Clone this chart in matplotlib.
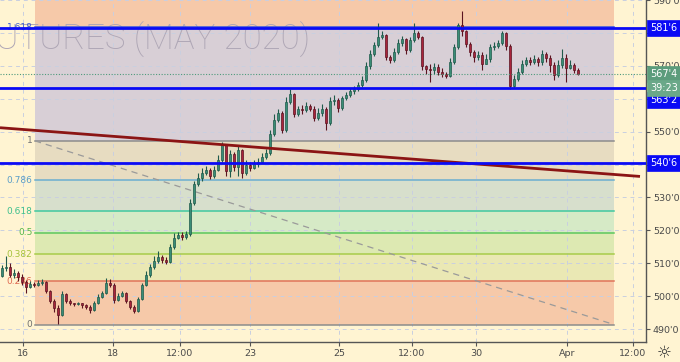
import numpy as np
import matplotlib
matplotlib.use('Agg')
import matplotlib.pyplot as plt
from matplotlib.transforms import blended_transform_factory

# свечи (цены в центах, open = предыдущий close)
first_open = 506.2
closes = [
    508.7, 509.0, 506.5, 507.1, 505.9, 504.4, 502.9, 503.8, 503.5, 504.1,
    504.4, 501.7, 498.7, 496.3, 494.2, 500.8, 498.7, 497.8, 497.5, 497.8,
    497.2, 496.6, 495.7, 497.8, 499.9, 501.1, 504.1, 503.5, 499.0, 500.2,
    501.1, 498.7, 496.6, 495.4, 499.3, 503.5, 506.5, 509.0, 510.8, 512.0,
    511.1, 510.5, 515.0, 517.7, 518.6, 518.0, 518.9, 528.2, 534.0, 535.8,
    537.3, 538.5, 536.4, 538.5, 541.5, 546.0, 537.9, 543.3, 539.4, 544.5,
    537.3, 540.0, 539.1, 540.3, 540.9, 542.4, 543.6, 549.3, 553.5, 555.7,
    550.5, 559.0, 561.4, 555.4, 556.9, 556.6, 557.8, 556.9, 554.1, 555.7,
    556.9, 552.6, 559.3, 559.6, 557.2, 560.2, 561.1, 562.3, 562.9, 564.1,
    565.6, 569.9, 573.5, 576.2, 578.9, 579.5, 572.6, 571.7, 574.1, 576.8,
    578.3, 574.7, 577.7, 580.1, 578.9, 569.9, 568.9, 568.6, 569.6, 568.0,
    567.4, 566.8, 571.1, 575.6, 582.5, 580.7, 576.5, 574.1, 572.6, 573.2,
    570.5, 572.0, 575.6, 575.9, 576.8, 580.1, 575.9, 563.8, 565.9, 568.0,
    570.5, 571.7, 571.3, 572.0, 571.1, 573.5, 572.3, 570.2, 567.1, 570.2,
    572.3, 569.2, 570.2, 568.6, 567.4]
highs = [
    509.6, 512.3, 510.2, 508.4, 507.7, 506.8, 505.0, 504.7, 504.4, 505.0,
    505.3, 504.7, 502.0, 499.3, 497.2, 501.7, 501.1, 499.3, 498.1, 498.4,
    498.1, 497.5, 497.2, 498.7, 500.8, 501.7, 505.6, 505.3, 504.1, 501.1,
    501.7, 501.4, 499.0, 497.2, 499.9, 504.1, 507.7, 509.9, 512.3, 513.8,
    512.6, 512.0, 515.9, 519.2, 519.5, 519.5, 519.8, 529.4, 534.9, 537.3,
    539.1, 539.7, 539.1, 539.7, 543.0, 546.9, 546.3, 544.5, 543.9, 545.7,
    544.8, 541.5, 540.9, 541.5, 542.1, 543.6, 544.8, 550.5, 555.4, 556.9,
    556.3, 560.5, 562.9, 561.7, 557.8, 558.1, 559.0, 558.4, 557.8, 557.2,
    558.4, 557.5, 560.5, 561.1, 560.2, 560.8, 562.0, 563.2, 563.8, 565.0,
    566.8, 571.1, 574.7, 577.1, 583.1, 580.7, 579.8, 573.2, 575.3, 578.0,
    579.2, 578.6, 578.9, 583.1, 580.7, 579.2, 570.2, 570.5, 570.8, 570.5,
    569.2, 568.0, 572.3, 576.5, 583.1, 586.7, 581.0, 577.1, 574.7, 574.4,
    574.1, 573.5, 576.5, 577.1, 577.7, 580.7, 580.4, 576.5, 567.1, 569.2,
    571.7, 572.6, 572.6, 573.2, 572.6, 574.7, 574.1, 573.2, 571.1, 571.7,
    575.0, 573.5, 571.7, 570.8, 569.2]
lows = [
    505.9, 507.7, 505.9, 505.6, 504.7, 503.5, 501.1, 502.6, 502.9, 503.2,
    503.5, 501.1, 498.1, 495.1, 491.5, 493.9, 497.8, 497.2, 496.9, 497.2,
    496.3, 496.0, 494.8, 495.4, 497.5, 499.6, 500.8, 502.9, 498.1, 498.7,
    499.9, 497.8, 496.0, 494.8, 495.1, 499.0, 503.2, 505.9, 508.4, 510.2,
    510.2, 509.9, 510.2, 514.4, 517.4, 517.1, 517.4, 518.3, 527.6, 533.4,
    534.9, 536.7, 535.5, 535.8, 537.9, 540.9, 536.4, 536.1, 537.9, 536.4,
    535.8, 536.7, 537.9, 538.8, 539.4, 540.6, 541.8, 543.0, 548.7, 552.9,
    549.6, 549.9, 558.4, 554.5, 554.8, 555.4, 556.0, 556.3, 553.2, 553.5,
    554.8, 550.5, 552.0, 558.1, 556.0, 556.6, 559.6, 560.5, 561.4, 562.3,
    563.5, 565.0, 568.9, 572.9, 575.6, 578.0, 571.7, 570.8, 571.1, 573.5,
    575.9, 573.5, 574.1, 577.1, 578.0, 568.6, 567.4, 565.0, 567.4, 567.1,
    566.5, 566.2, 566.5, 570.5, 575.0, 579.2, 575.6, 572.9, 571.1, 571.7,
    568.6, 570.5, 571.1, 574.7, 575.3, 576.2, 574.7, 562.9, 563.2, 565.3,
    567.4, 569.9, 570.2, 570.5, 569.9, 570.2, 571.1, 568.0, 565.6, 566.5,
    569.2, 565.0, 568.9, 567.7, 567.1]

# фибо
fib_low, fib_high = 491.4, 547.2
fib_start, fib_end = 8.25, 153.0
fib_ratios = [0, 0.236, 0.382, 0.5, 0.618, 0.786, 1, 1.618, 2.618]
fib_text = ['0', '0.236', '0.382', '0.5', '0.618', '0.786', '1', '1.618']
fib_line_colors = ['#8c8c8c', '#e0735a', '#a8cc4a', '#5cc85c', '#40c8a0',
                   '#6aaed0', '#8c8c8c', '#3050e0']
fib_label_colors = ['#707070', '#e06a50', '#a6c23a', '#55b84a', '#3cbf8e',
                    '#5a9ec8', '#707070', '#4060d0']
fib_fill_colors = ['#f6c9a9', '#eae8b4', '#dde9b2', '#d6eac6', '#d7dfcc',
                   '#e7dcc1', '#d8cfd6', '#f6c9a9']

# горизонтальные уровни
levels = [581.6, 563.2, 540.6]
level_text = ["581'6", "563'2", "540'6"]
last_price = 567.4
last_text = "567'4"
countdown = '39:23'

# наклонная линия
trend_x = [-0.5, 159.5]
trend_y = [551.2, 536.4]

xtick_pos = [5.25, 27.75, 44.5, 62, 84.25, 102.5, 118.5, 141.25, 157.75]
xtick_labels = ['16', '18', '12:00', '23', '25', '12:00', '30', 'Apr', '12:00']
ytick_vals = [490, 500, 510, 520, 530, 540, 550, 560, 570, 580, 590]
ytick_labels = ["490'0", "500'0", "510'0", "520'0", "530'0", '', "550'0", '',
                "570'0", "580'0", "590'0"]

bg = '#fff4d2'
fig = plt.figure(figsize=(6.8, 3.62), dpi=100, facecolor=bg)
ax = fig.add_axes([0, 20 / 362, 646 / 680, 342 / 362], facecolor=bg)
ax.set_xlim(-0.5, 161)
ax.set_ylim(486.1, 589.1)

# заливки фибо
prices = [fib_low + r * (fib_high - fib_low) for r in fib_ratios]
for k in range(len(prices) - 1):
    ax.fill_between([fib_start, fib_end], prices[k], prices[k + 1],
                    color=fib_fill_colors[k], lw=0, zorder=0.5)
for k, t in enumerate(fib_text):
    ax.plot([fib_start, fib_end], [prices[k], prices[k]],
            color=fib_line_colors[k], lw=1.1, zorder=1.2)
    ax.text(fib_start - 0.6, prices[k], t, ha='right', va='center',
            fontsize=6.5, color=fib_label_colors[k], zorder=1.3)

# сетка
for xp in xtick_pos:
    ax.axvline(xp, color='#c9cfe0', lw=0.7, ls=(0, (4, 4)), zorder=0.8)
for yv in ytick_vals:
    ax.axhline(yv, color='#c9cfe0', lw=0.7, ls=(0, (4, 4)), zorder=0.8)

# водяной знак
ax.text(310 / 680, 1 - 40 / 362, 'WHEAT FUTURES (MAY 2020)',
        transform=fig.transFigure, ha='right', va='center', fontsize=25,
        family='Roboto', fontweight='light', color='#aea6b5', zorder=0.9)

# диагональ фибо
ax.plot([fib_start, fib_end], [fib_high, fib_low], color='#9a9a9a',
        lw=0.9, ls=(0, (5, 4)), zorder=1.4)

# свечи
opens = [first_open] + closes[:-1]
x = np.arange(len(closes))
o = np.array(opens)
c = np.array(closes)
up = c >= o
body_col = np.where(up, '#3a8d76', '#a8243b')
edge_col = np.where(up, '#1f5a4b', '#5a1420')
ax.vlines(x, lows, highs, colors=edge_col, lw=0.8, zorder=2.5)
ax.bar(x, np.maximum(np.abs(c - o), 0.25), bottom=np.minimum(o, c),
       width=0.62, color=body_col, edgecolor=edge_col, lw=0.5, zorder=3)

# линии
ax.plot(trend_x, trend_y, color='#8b1414', lw=2.0, zorder=4,
        solid_capstyle='butt')
for lv in levels:
    ax.axhline(lv, color='#0a0af5', lw=2.0, zorder=4.5)
ax.axhline(last_price, color='#4f9a7c', lw=0.8, ls=(0, (1, 1.5)), zorder=4.2)

# оси
for s in ['top', 'left']:
    ax.spines[s].set_visible(False)
for s in ['bottom', 'right']:
    ax.spines[s].set_color('#555555')
    ax.spines[s].set_linewidth(1.0)
ax.yaxis.tick_right()
ax.set_yticks(ytick_vals)
ax.set_yticklabels(ytick_labels)
ax.set_xticks(xtick_pos)
ax.set_xticklabels(xtick_labels)
ax.tick_params(axis='both', length=3, width=0.8, color='#555555',
               labelsize=6.8, labelcolor='#4a4a4a', pad=2)

# ценовые метки справа
tr = blended_transform_factory(ax.transAxes, ax.transData)
def price_box(y, text, fc, dy=0):
    ax.annotate(text, xy=(1.0, y), xycoords=tr, xytext=(3, dy),
                textcoords='offset points', ha='left', va='center',
                fontsize=7, color='white', zorder=10, annotation_clip=False,
                bbox=dict(boxstyle='square,pad=0.3', fc=fc, ec=fc, lw=0.5))

price_box(levels[0], level_text[0], '#0a0af5')
price_box(levels[2], level_text[2], '#0a0af5')
price_box(levels[1], level_text[1], '#0a0af5', dy=-8.6)
price_box(last_price, last_text, '#5c9c7c')
price_box(last_price, countdown, '#6aa889', dy=-9.6)

fig.text(664 / 680, 1 - 353 / 362, '\u263c', ha='center', va='center',
         fontsize=12, color='#333333')

plt.savefig('out.png', dpi=100, facecolor=bg)
